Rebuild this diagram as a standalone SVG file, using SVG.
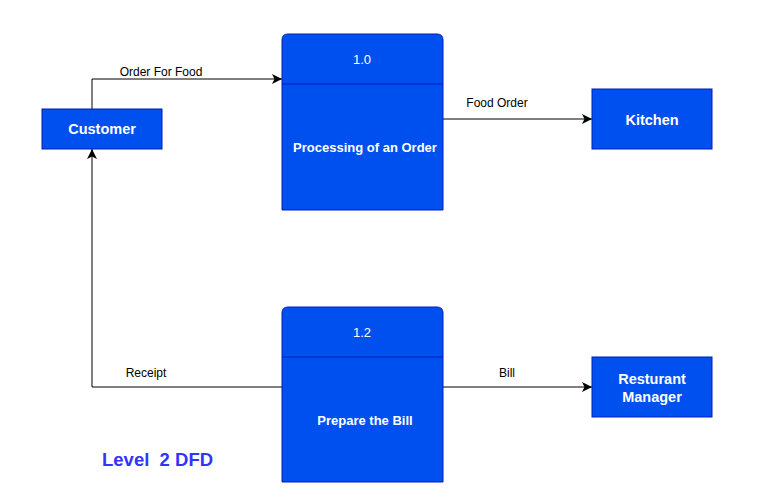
<svg xmlns="http://www.w3.org/2000/svg" width="766" height="503" viewBox="0 0 766 503">
<defs>
<style>
.box{fill:#0050EF;stroke:#001DBC;stroke-width:1}
.wt{fill:#FFFFFF;font-family:"Liberation Sans",Arial,sans-serif;text-anchor:middle}
.b{font-weight:bold}
.lbl{fill:#000;font-family:"Liberation Sans",Arial,sans-serif;font-size:12px;text-anchor:middle}
.ln{fill:none;stroke:#000;stroke-width:1}
</style>
<marker id="ah" viewBox="0 0 10 10" refX="10" refY="5" markerWidth="10" markerHeight="10" markerUnits="userSpaceOnUse" orient="auto">
<path d="M0,0 L10,5 L0,10 L2.5,5 Z" fill="#000"/>
</marker>
</defs>
<rect width="766" height="503" fill="#FFFFFF"/>
<g id="connectors">
<path class="ln" d="M92,109 V79 H282" marker-end="url(#ah)"/>
<path class="ln" d="M443,119 H592" marker-end="url(#ah)"/>
<path class="ln" d="M282,387 H92 V149" marker-end="url(#ah)"/>
<path class="ln" d="M443,387 H592" marker-end="url(#ah)"/>
<text class="lbl" x="161" y="76">Order For Food</text>
<text class="lbl" x="497" y="107">Food Order</text>
<text class="lbl" x="146" y="377">Receipt</text>
<text class="lbl" x="507" y="377">Bill</text>
</g>
<g id="customer">
<rect class="box" x="42" y="109" width="120" height="40"/>
<text class="wt b" x="102" y="134" font-size="14.5">Customer</text>
</g>
<g id="process-1-0">
<path class="box" d="M288,34 H437 Q443,34 443,40 V210 H282 V40 Q282,34 288,34 Z"/>
<line x1="282" y1="84" x2="443" y2="84" stroke="#001DBC" stroke-width="1"/>
<text class="wt" x="362" y="64" font-size="13">1.0</text>
<text class="wt b" x="365" y="152" font-size="13">Processing of an Order</text>
</g>
<g id="kitchen">
<rect class="box" x="592" y="89" width="120" height="60"/>
<text class="wt b" x="652" y="125" font-size="14.5">Kitchen</text>
</g>
<g id="process-1-2">
<path class="box" d="M288,307 H437 Q443,307 443,313 V482 H282 V313 Q282,307 288,307 Z"/>
<line x1="282" y1="357" x2="443" y2="357" stroke="#001DBC" stroke-width="1"/>
<text class="wt" x="362" y="337" font-size="13">1.2</text>
<text class="wt b" x="365" y="425" font-size="13">Prepare the Bill</text>
</g>
<g id="restaurant-manager">
<rect class="box" x="592" y="357" width="120" height="60"/>
<text class="wt b" x="652" y="384" font-size="14.5">Resturant</text>
<text class="wt b" x="652" y="402" font-size="14.5">Manager</text>
</g>
<g id="title">
<text x="102" y="466" fill="#3333FF" font-family="'Liberation Sans',Arial,sans-serif" font-size="18.5" font-weight="bold" xml:space="preserve">Level  2 DFD</text>
</g>
</svg>
